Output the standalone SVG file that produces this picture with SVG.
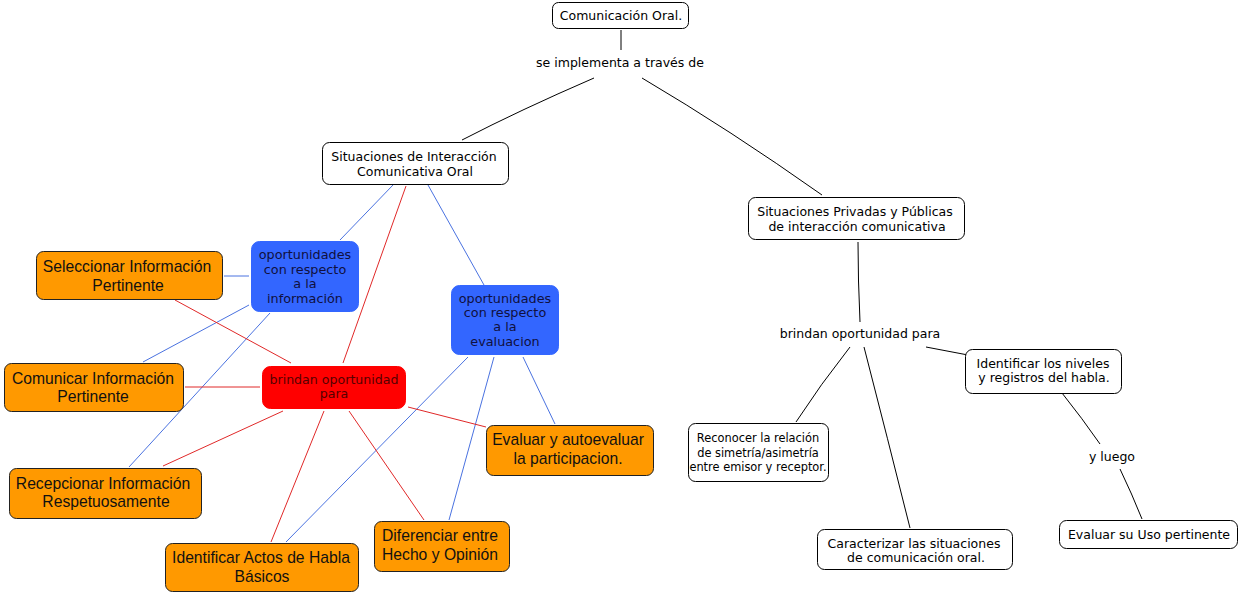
<svg xmlns="http://www.w3.org/2000/svg" width="1238" height="593" viewBox="0 0 1238 593">
<style>
.w{fill:#fff;stroke:#000;stroke-width:1}
.o{fill:#ff9900;stroke:#222;stroke-width:1}
.b{fill:#3366ff;stroke:#3366ff}
.r{fill:#ff0000;stroke:#ff0000}
.t{font-family:"DejaVu Sans",sans-serif;font-size:12.5px;fill:#000;text-anchor:middle}
.ts{font-size:11.4px}
.to{font-family:"Liberation Sans",Arial,sans-serif;font-size:15.7px;fill:#111;text-anchor:middle}
.tb{font-family:"DejaVu Sans",sans-serif;font-size:12.8px;fill:#101040;text-anchor:middle}
.tr{font-family:"DejaVu Sans",sans-serif;font-size:12.6px;fill:#500;text-anchor:middle}
.k{stroke:#000;stroke-width:1;fill:none}
.lb{stroke:#4a72e0;stroke-width:1;fill:none}
.lr{stroke:#e02828;stroke-width:1;fill:none}
</style>
<rect width="1238" height="593" fill="#fff"/>
<g id="connectors">
<path class="k" d="M621 30 L621 50"/>
<path class="k" d="M594 78 Q520 110 462 140"/>
<path class="k" d="M642 78 Q730 130 822 195"/>
<path class="k" d="M858 242 Q858 280 860 322"/>
<path class="k" d="M850 347 Q820 385 796 422"/>
<path class="k" d="M864 347 Q888 440 910 528"/>
<path class="k" d="M926 347 L968 355"/>
<path class="k" d="M1062 393 Q1082 418 1100 444"/>
<path class="k" d="M1120 469 Q1132 494 1142 519"/>
<path class="lb" d="M393 185 L340 240"/>
<path class="lb" d="M428 185 L484 285"/>
<path class="lb" d="M224 276 L249 276"/>
<path class="lb" d="M249 305 L143 362"/>
<path class="lb" d="M270 313 L129 467"/>
<path class="lb" d="M468 357 L286 542"/>
<path class="lb" d="M494 357 L449 520"/>
<path class="lb" d="M523 357 L555 424"/>
<path class="lr" d="M406 186 L343 363"/>
<path class="lr" d="M175 300 L291 363"/>
<path class="lr" d="M185 387 L260 387"/>
<path class="lr" d="M283 411 L163 466"/>
<path class="lr" d="M324 411 L271 542"/>
<path class="lr" d="M349 411 L424 520"/>
<path class="lr" d="M408 407 L486 427"/>
</g>
<g id="n-comunicacion">
<rect class="w" x="552.5" y="2.5" width="136" height="26" rx="6"/>
<text class="t" x="621" y="19.5">Comunicación Oral.</text>
</g>
<g id="l-implementa"><text class="t" x="620" y="66.5">se implementa a través de</text></g>
<g id="n-interaccion">
<rect class="w" x="322.5" y="142.5" width="186" height="42" rx="7"/>
<text class="t" x="414" y="160.5">Situaciones de Interacción</text>
<text class="t" x="415" y="175.5">Comunicativa Oral</text>
</g>
<g id="n-privadas">
<rect class="w" x="748.5" y="197.5" width="216" height="42" rx="7"/>
<text class="t" x="855" y="215.5">Situaciones Privadas y Públicas</text>
<text class="t" x="857" y="230.5">de interacción comunicativa</text>
</g>
<g id="l-brindan2"><text class="t" x="860" y="337.5">brindan oportunidad para</text></g>
<g id="n-niveles">
<rect class="w" x="965.5" y="349.5" width="156" height="44" rx="7"/>
<text class="t" x="1043" y="367.5">Identificar los niveles</text>
<text class="t" x="1044" y="382">y registros del habla.</text>
</g>
<g id="l-luego"><text class="t" x="1112" y="460.5">y luego</text></g>
<g id="n-evaluar-uso">
<rect class="w" x="1059.5" y="520.5" width="178" height="28" rx="7"/>
<text class="t" x="1149" y="538.5">Evaluar su Uso pertinente</text>
</g>
<g id="n-reconocer">
<rect class="w" x="688.5" y="423.5" width="140" height="58" rx="7"/>
<text class="t ts" x="758" y="442">Reconocer la relación</text>
<text class="t ts" x="758" y="456.5">de simetría/asimetría</text>
<text class="t ts" x="758" y="471">entre emisor y receptor.</text>
</g>
<g id="n-caracterizar">
<rect class="w" x="817.5" y="529.5" width="195" height="40" rx="7"/>
<text class="t" x="914" y="547.5">Caracterizar las situaciones</text>
<text class="t" x="916" y="561.5">de comunicación oral.</text>
</g>
<g id="n-op-info">
<rect class="b" x="251.5" y="241.5" width="107" height="70" rx="8"/>
<text class="tb" x="305" y="259">oportunidades</text>
<text class="tb" x="305" y="274">con respecto</text>
<text class="tb" x="305" y="288">a la</text>
<text class="tb" x="305" y="303">información</text>
</g>
<g id="n-op-eval">
<rect class="b" x="451.5" y="285.5" width="107" height="69" rx="8"/>
<text class="tb" x="505" y="303">oportunidades</text>
<text class="tb" x="505" y="317">con respecto</text>
<text class="tb" x="505" y="331">a la</text>
<text class="tb" x="505" y="346">evaluacion</text>
</g>
<g id="n-brindan">
<rect class="r" x="262.5" y="366.5" width="143" height="42" rx="8"/>
<text class="tr" x="334" y="384">brindan oportunidad</text>
<text class="tr" x="334" y="398">para</text>
</g>
<g id="n-seleccionar">
<rect class="o" x="36.5" y="251.5" width="186" height="48" rx="7"/>
<text class="to" x="127" y="272">Seleccionar Información</text>
<text class="to" x="128" y="291">Pertinente</text>
</g>
<g id="n-comunicar">
<rect class="o" x="4.5" y="363.5" width="179" height="48" rx="7"/>
<text class="to" x="93" y="384">Comunicar Información</text>
<text class="to" x="93" y="402">Pertinente</text>
</g>
<g id="n-recepcionar">
<rect class="o" x="9.5" y="468.5" width="192" height="50" rx="7"/>
<text class="to" x="103" y="489">Recepcionar Información</text>
<text class="to" x="106" y="507">Respetuosamente</text>
</g>
<g id="n-actos">
<rect class="o" x="165.5" y="543.5" width="193" height="48" rx="7"/>
<text class="to" x="261" y="563">Identificar Actos de Habla</text>
<text class="to" x="262" y="582">Básicos</text>
</g>
<g id="n-diferenciar">
<rect class="o" x="374.5" y="521.5" width="135" height="50" rx="7"/>
<text class="to" x="440" y="541">Diferenciar entre</text>
<text class="to" x="440" y="560">Hecho y Opinión</text>
</g>
<g id="n-evaluar">
<rect class="o" x="486.5" y="425.5" width="167" height="50" rx="7"/>
<text class="to" x="568" y="445">Evaluar y autoevaluar</text>
<text class="to" x="568" y="464">la participacion.</text>
</g>
</svg>
